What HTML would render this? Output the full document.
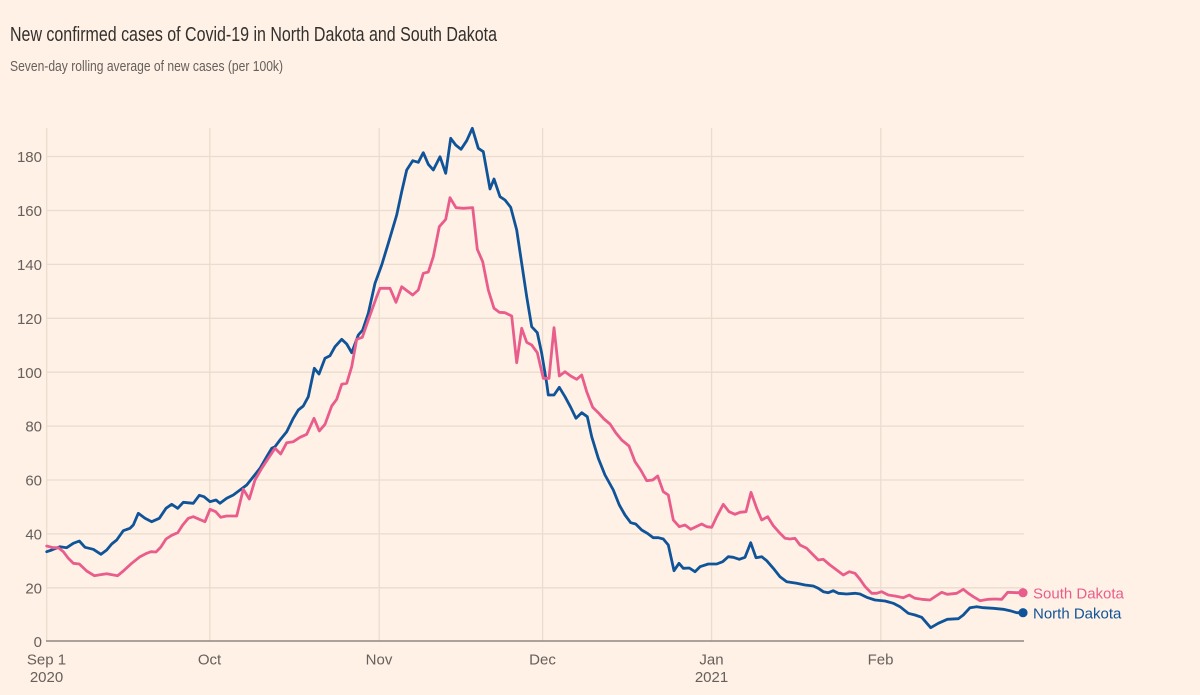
<!DOCTYPE html>
<html>
<head>
<meta charset="utf-8">
<style>
  html, body { margin:0; padding:0; background:#fff1e5; }
  body { width:1200px; height:695px; overflow:hidden; }
  svg { display:block; }
  text { font-family: "Liberation Sans", "DejaVu Sans", sans-serif; }
</style>
</head>
<body>
<svg width="1200" height="695" viewBox="0 0 1200 695" xmlns="http://www.w3.org/2000/svg">
  <rect x="0" y="0" width="1200" height="695" fill="#fff1e5"/>

  <!-- Title & subtitle -->
  <text x="10" y="41" font-size="20" fill="#33302e" textLength="487" lengthAdjust="spacingAndGlyphs">New confirmed cases of Covid-19 in North Dakota and South Dakota</text>
  <text x="10" y="71" font-size="14.5" fill="#66605c" textLength="273" lengthAdjust="spacingAndGlyphs">Seven-day rolling average of new cases (per 100k)</text>

  <!-- Horizontal gridlines -->
  <g stroke="#eadccf" stroke-width="1.3">
    <line x1="46" y1="156.5" x2="1024" y2="156.5"/>
    <line x1="46" y1="210.5" x2="1024" y2="210.5"/>
    <line x1="46" y1="264.4" x2="1024" y2="264.4"/>
    <line x1="46" y1="318.3" x2="1024" y2="318.3"/>
    <line x1="46" y1="372.2" x2="1024" y2="372.2"/>
    <line x1="46" y1="426.1" x2="1024" y2="426.1"/>
    <line x1="46" y1="480" x2="1024" y2="480"/>
    <line x1="46" y1="533.9" x2="1024" y2="533.9"/>
    <line x1="46" y1="587.8" x2="1024" y2="587.8"/>
  </g>
  <!-- Vertical gridlines -->
  <g stroke="#eadccf" stroke-width="1.3">
    <line x1="46.7" y1="128" x2="46.7" y2="641"/>
    <line x1="209.8" y1="128" x2="209.8" y2="641"/>
    <line x1="379.2" y1="128" x2="379.2" y2="641"/>
    <line x1="542.6" y1="128" x2="542.6" y2="641"/>
    <line x1="711.6" y1="128" x2="711.6" y2="641"/>
    <line x1="880.8" y1="128" x2="880.8" y2="641"/>
  </g>

  <!-- Y tick labels -->
  <g font-size="15" fill="#66605c" text-anchor="end">
    <text x="42" y="162">180</text>
    <text x="42" y="216">160</text>
    <text x="42" y="270">140</text>
    <text x="42" y="324">120</text>
    <text x="42" y="378">100</text>
    <text x="42" y="431.5">80</text>
    <text x="42" y="485.5">60</text>
    <text x="42" y="539.5">40</text>
    <text x="42" y="593.5">20</text>
    <text x="42" y="647">0</text>
  </g>

  <!-- Baseline -->
  <line x1="46" y1="641" x2="1024" y2="641" stroke="#8f8781" stroke-width="1.6"/>

  <!-- X tick labels -->
  <g font-size="15" fill="#66605c" text-anchor="middle">
    <text x="46.5" y="664.5">Sep 1</text>
    <text x="46.5" y="682">2020</text>
    <text x="209.5" y="664.5">Oct</text>
    <text x="379" y="664.5">Nov</text>
    <text x="542.5" y="664.5">Dec</text>
    <text x="711.5" y="664.5">Jan</text>
    <text x="711.5" y="682">2021</text>
    <text x="880.5" y="664.5">Feb</text>
  </g>

  <!-- North Dakota (blue) -->
  <polyline fill="none" stroke="#0f5499" stroke-width="2.8" stroke-linejoin="round" stroke-linecap="round"
    points="46.7,551.7 51.7,550 60,546.7 66.7,547.7 73.3,543.3 79.3,541 85,547.3 93.3,549.3 101,554.3 106.7,550 111.7,544 116.7,540 123.3,530.7 130,528.3 133.3,525 138.3,513.3 145,518.3 151.7,521.7 159.3,518.3 166,508.3 171.7,504.3 177.7,508.3 183.3,502.3 193.3,503.3 199.3,495.3 204,496.7 210,501.7 216,500 220,503.3 226.7,498.3 233.3,495 240,490 246.7,485 253.3,476.7 260,468.3 266.7,456.7 271.7,448.3 275,446.7 280,440 286.7,431.7 293.3,418.3 298.3,410 303.3,406 308.3,396.7 314.3,368.3 319,374 325,358.3 330,355.7 335,346.7 341.7,339.3 346.7,344 351.7,352.7 358.3,335 362.7,330 368.3,313.3 375,283.3 381.7,265 388.3,243.3 396.7,215 401.7,191.7 406.7,170 412.7,160.7 418.3,162.3 423.3,152.7 428.3,164.3 433.3,170 440,156.7 445.7,173.3 450.7,138.3 455.7,145 461,149.3 466.7,140.7 472.3,128.3 478.3,148.3 483.3,151.7 490,189 494,179 500,196.7 505,200 510.7,207.3 516.7,230 521.7,263.3 526.7,296.7 531.7,326.7 537.3,332.7 541.7,353.3 546.7,383.3 548.3,395 554,395 559.3,387.3 565,396.7 570.7,407.3 576,418.3 581.7,412.7 587.3,416.7 591.7,436.7 598.3,458.3 605,475 613.3,490 619.3,505 625,515 630.7,522.7 635.7,524 641.7,530 647.3,533.3 653.3,537.7 658.3,537.7 663.3,539 668.3,545 674,570.7 679,563.3 683.3,568.3 689.3,568 695,571.7 700,566.7 708.3,564 716.7,564 722.7,561.7 728.3,556.7 733.3,557.3 739.3,559.3 745,557.3 750.7,542.7 756,557.7 761.7,556.7 766.7,560.7 773.3,568.3 780,576.7 786.7,581.7 796.7,583.3 805,585 813.3,586 818.3,588.3 823.3,591.7 828.3,592.7 833.3,590.7 838.3,593.3 846.7,594 855,593.3 860,594 866.7,597.3 875,600 885,601 893.3,603.3 900,606.7 908.3,613.3 915,615 921.7,617.3 930.7,627.7 938.3,623.3 947.3,619.3 958.3,618.7 963.3,615 970,607.7 976.7,606.7 983.3,607.7 993.3,608.3 1003.3,609.3 1010,610.7 1016.7,612.7 1022.7,612.7"/>

  <!-- South Dakota (pink) -->
  <polyline fill="none" stroke="#e95d8c" stroke-width="2.8" stroke-linejoin="round" stroke-linecap="round"
    points="46.7,546 53.3,547.7 58.3,547.7 63.3,551.7 68.3,558.3 73.3,563.3 79.3,564 86.7,571 94.3,575.7 100,574.7 106.7,573.7 117.7,575.7 123.3,571 131.7,563.3 140,556.7 146.7,553.3 151,551.7 156,552 160.7,547.3 166,539 171.7,535.3 177.7,532.7 182.7,525 188.3,518.3 193.3,516.7 199.3,519.3 205,521.7 210,509.3 215.7,511.7 220.7,517.3 226.7,516 236.7,516 243.3,489.3 249.3,499 255,480 261.7,468.3 268.3,458.3 275,448.3 280.7,454 286.7,442.7 293.3,441.7 300,437.3 306.7,434.3 314,418.3 319.3,431 325,424.3 331.7,406 336.7,399.3 341.7,384.3 346.7,383.3 351.7,366.7 356.7,339.3 362.3,337.3 368.3,320 376.7,296.7 380,288.3 390,288.3 396,302.3 401.7,286.7 412.7,295 418.3,290 423.3,273.3 428.3,272 433.3,256.7 439.3,226.7 445.7,219.3 450,197.7 456,207.7 463.3,208.3 472.7,207.7 477.3,249.3 482.7,261.7 488.3,290 494,308.3 499.3,312.3 505,312.7 511.7,316 516.7,362.7 521.7,328.3 526.7,342.3 531.7,345 537.3,352.7 543.3,378.3 549,378.3 554,327.7 559.3,376 565,371.7 570.7,376 576.7,379.3 581.7,375 586.7,391.7 592.7,407.3 598.3,412.7 604,419 610,424 615.7,432.7 621.7,440 629,446 635,461.7 640.7,470 646.7,480.7 652.7,480 657.7,476 663.3,491.7 668.3,495 673.3,520 679.3,526.7 685,525 690.7,529.3 696,526.7 701.7,524 706.7,526.7 711.7,527.3 716.7,516.7 723.3,504.3 729,511.7 735,514.3 740,512.3 746,511.7 751,492.3 756.7,508.3 761.7,520 767.7,516.7 773.3,525.7 780,533.3 785,538.3 790,539 795,538.3 800,545 806.7,548.3 813.3,555 818.3,560 823.3,559.3 830,565 836.7,570 843.3,575 849.3,571.7 855,573.3 860,579.3 865,586.5 871.7,593.3 876.7,593.3 881.7,591.7 888.3,595 895,596 903.3,597.7 909.3,595 915,598.3 921.7,599.3 930,600 936,596 941.7,592.3 947.3,594.3 956.7,593.3 963.3,589.3 968.3,593.3 973.3,596.7 980,600.7 988.3,599.3 995,599 1001.7,599.3 1007.7,592.3 1016.7,592.7 1022.7,592.7"/>

  <!-- End dots & legend labels -->
  <circle cx="1023" cy="592.7" r="4.6" fill="#e95d8c"/>
  <circle cx="1023" cy="612.7" r="4.6" fill="#0f5499"/>
  <text x="1033" y="598.3" font-size="15" fill="#e95d8c">South Dakota</text>
  <text x="1033" y="618.3" font-size="15" fill="#0f5499">North Dakota</text>
</svg>
</body>
</html>
